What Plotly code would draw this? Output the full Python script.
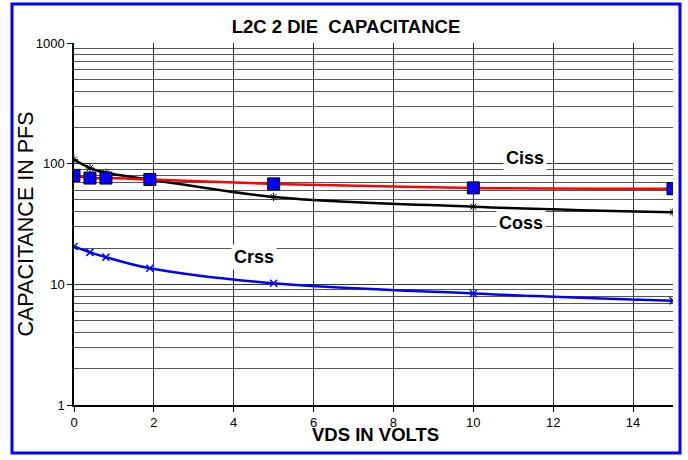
import math
import plotly.graph_objects as go

vds = [0, 0.4, 0.8, 1.9, 5, 10, 15]
ciss = [80, 76, 76, 74, 68, 63, 62]
coss = [108, 92, 84, 74, 53, 44, 39.5]
crss = [20.6, 18.4, 16.8, 13.6, 10.2, 8.4, 7.3]

x_ticks = [0, 2, 4, 6, 8, 10, 12, 14]
y_ticks = [1, 10, 100, 1000]

labels = ["Ciss", "Coss", "Crss"]
label_x = [11.3, 11.2, 4.5]
label_y = [112, 32, 17]

L, R, T, B = 74, 15, 43, 55
W, H = 688, 460
pw, ph = W - L - R, H - T - B

fig = go.Figure()
fig.add_trace(go.Scatter(x=vds, y=coss, mode="lines+markers", name="Coss",
                         line=dict(color="black", width=2.5, shape="spline"),
                         marker=dict(symbol="asterisk-open", size=7, color="black", line=dict(width=1, color="black"))))
fig.add_trace(go.Scatter(x=vds, y=ciss, mode="lines+markers", name="Ciss",
                         line=dict(color="red", width=2.5, shape="spline"),
                         marker=dict(symbol="square", size=12, color="#0000ff", line=dict(width=1, color="black"))))
fig.add_trace(go.Scatter(x=vds, y=crss, mode="lines+markers", name="Crss",
                         line=dict(color="#0000ff", width=2.5, shape="spline"),
                         marker=dict(symbol="x-thin-open", size=7, color="#0000ff", line=dict(width=1.5, color="#0000ff"))))

font = "Liberation Sans, Arial, sans-serif"
fig.update_layout(
    width=W, height=H, margin=dict(l=L, r=R, t=T, b=B, autoexpand=False),
    paper_bgcolor="white", plot_bgcolor="white", showlegend=False,
    title=dict(text="<b>L2C 2 DIE  CAPACITANCE</b>", x=(346 - L) / pw, xref="paper", xanchor="center",
               y=1 - 27 / H, yanchor="middle",
               font=dict(family=font, size=18.5, color="black")),
    font=dict(family=font, size=12, color="black"),
)
fig.update_xaxes(range=[0, 15], tickvals=x_ticks, ticks="outside", ticklen=5, tickcolor="black",
                 showgrid=True, gridcolor="#333", gridwidth=1, showline=True, linecolor="black", linewidth=1.5,
                 zeroline=False, tickfont=dict(size=13, family=font), automargin=False)
fig.update_yaxes(type="log", range=[0, 3], tickvals=y_ticks, ticktext=[str(v) for v in y_ticks],
                 ticks="outside", ticklen=5, tickcolor="black",
                 showgrid=True, gridcolor="#333", gridwidth=1,
                 minor=dict(showgrid=True, gridcolor="#555", gridwidth=1, dtick="D1"),
                 showline=True, linecolor="black", linewidth=1.5, zeroline=False,
                 tickfont=dict(size=13, family=font), automargin=False)

# axis titles placed as text
fig.add_annotation(xref="paper", yref="paper", x=(25.5 - L) / pw, y=(H - B - 224) / ph,
                   text="CAPACITANCE IN PFS", textangle=-90, showarrow=False,
                   xanchor="center", yanchor="middle",
                   font=dict(family=font, size=21.5, color="black"))
fig.add_annotation(xref="paper", yref="paper", x=(375 - L) / pw, y=(H - B - 435) / ph,
                   text="<b>VDS IN VOLTS</b>", showarrow=False,
                   xanchor="center", yanchor="middle",
                   font=dict(family=font, size=18.5, color="black"))

for txt, xv, yv in zip(labels, label_x, label_y):
    fig.add_annotation(x=xv, y=math.log10(yv), text="<b>" + txt + "</b>", showarrow=False,
                       font=dict(family=font, size=18, color="black"), bgcolor="white", borderpad=2)

fig.add_shape(type="rect", xref="paper", yref="paper",
              x0=(12 - L) / pw, x1=(680 - L) / pw, y0=(H - B - 453) / ph, y1=(H - B - 4) / ph,
              line=dict(color="#0000ff", width=3), fillcolor="rgba(0,0,0,0)", layer="below")

fig.write_html("out.html", config={"displayModeBar": False},
               post_script="document.body.style.margin='0';")
